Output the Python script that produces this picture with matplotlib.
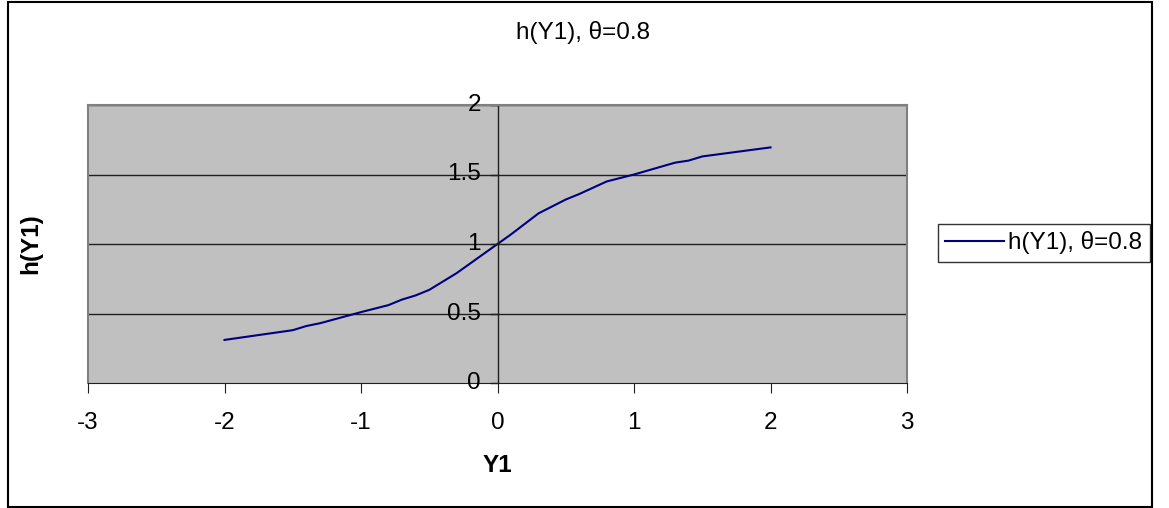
import matplotlib
matplotlib.use("Agg")
import matplotlib.pyplot as plt
from matplotlib.patches import Rectangle

plt.rcParams['font.family'] = ['Liberation Sans', 'DejaVu Sans']

# datos
y1 = [-2.0, -1.5, -1.4, -1.3, -1.0, -0.8, -0.7, -0.6, -0.5, -0.3, -0.2, -0.1,
      0.0, 0.1, 0.3, 0.5, 0.6, 0.8, 1.0, 1.3, 1.4, 1.5, 2.0]
h_y1 = [0.31, 0.38, 0.41, 0.43, 0.51, 0.56, 0.60, 0.63, 0.67, 0.79, 0.86, 0.93,
        1.00, 1.07, 1.22, 1.32, 1.36, 1.45, 1.50, 1.585, 1.60, 1.63, 1.695]
serie = 'h(Y1), θ=0.8'
xticks = [-3, -2, -1, 0, 1, 2, 3]
yticks = [0, 0.5, 1, 1.5, 2]

fs = 17.5

fig = plt.figure(figsize=(11.69, 5.08), dpi=100)
fig.patches.append(Rectangle((8 / 1169, 1 / 508), 1144 / 1169, 505 / 508,
                             transform=fig.transFigure, fill=False,
                             edgecolor='black', linewidth=1.5))

ax = fig.add_axes([88 / 1169, 125 / 508, 819 / 1169, 278 / 508])
ax.set_facecolor('#C0C0C0')
ax.plot(y1, h_y1, color='#000080', linewidth=1.5, label=serie)
ax.set_xlim(-3, 3)
ax.set_ylim(0, 2)

for v in yticks[1:]:
    ax.axhline(v, color='#202020', linewidth=1, zorder=1)

for s in ['top', 'right', 'left']:
    ax.spines[s].set_color('#808080')
    ax.spines[s].set_linewidth(1.5)
ax.spines['bottom'].set_color('#202020')

# eje vertical en x=0
ax.axvline(0, color='#202020', linewidth=1, zorder=2)

ax.set_xticks(xticks)
ax.set_xticklabels([str(t) for t in xticks])
ax.tick_params(axis='x', direction='out', length=7, pad=14, labelsize=fs,
               color='#202020')
ax.set_yticks([])
for v in yticks:
    ax.plot([-0.05, 0], [v, v], color='#202020', linewidth=1, clip_on=False)
    ax.text(-0.12, v, '%g' % v, ha='right', va='center', fontsize=fs)

ax.set_xlabel('Y1', fontsize=fs, fontweight='bold', labelpad=14)
ax.set_ylabel('h(Y1)', fontsize=fs, fontweight='bold', labelpad=33)

fig.text(583 / 1169, 1 - 33 / 508, serie, ha='center', va='center', fontsize=fs)

leg = fig.legend(loc='center left', bbox_to_anchor=(938 / 1169, 1 - 243 / 508),
                 fontsize=fs, frameon=True, fancybox=False, handlelength=2.4,
                 borderpad=0.3, handletextpad=0.2, borderaxespad=0)
leg.get_frame().set_edgecolor('black')
leg.get_frame().set_linewidth(1)

fig.savefig('out.png', dpi=100)
